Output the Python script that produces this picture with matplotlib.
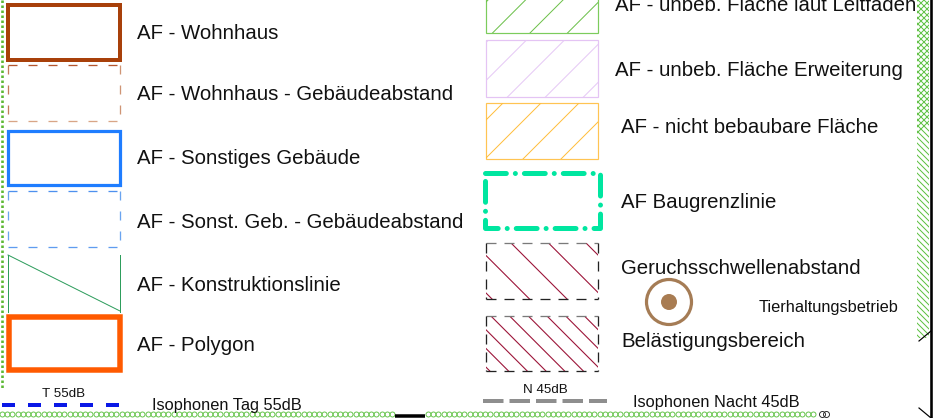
import numpy as np
import matplotlib.pyplot as plt
from matplotlib.patches import Rectangle, Circle

plt.rcParams['font.family'] = ['Liberation Sans', 'DejaVu Sans']
plt.rcParams['lines.scale_dashes'] = False

# legend entries
left_labels = ['AF - Wohnhaus', 'AF - Wohnhaus - Gebäudeabstand', 'AF - Sonstiges Gebäude',
               'AF - Sonst. Geb. - Gebäudeabstand', 'AF - Konstruktionslinie', 'AF - Polygon']
right_labels = ['AF - unbeb. Fläche laut Leitfaden', 'AF - unbeb. Fläche Erweiterung',
                'AF - nicht bebaubare Fläche', 'AF Baugrenzlinie',
                'Geruchsschwellenabstand', 'Belästigungsbereich']
point_label = 'Tierhaltungsbetrieb'
iso_short = ['T 55dB', 'N 45dB']
iso_labels = ['Isophonen Tag 55dB', 'Isophonen Nacht 45dB']

# layout (pixel units, y downwards)
left_boxes = [(4.5, 59.5), (65, 121), (131, 185), (191, 247), (255, 311), (317, 370)]
left_base = [39, 100, 164, 228, 291, 351]
right_boxes = [(-24, 32.5), (39.5, 96.5), (103, 159), (173, 228), (243, 299), (316, 371)]
right_base = [11, 76, 133, 208, 274, 347]
right_x = [615, 615, 621, 621, 621, 621]

TXT = '#111111'
BIG = 14.7
SMALL = 11.8


def pt(v):
    return v * 0.72


fig = plt.figure(figsize=(9.38, 4.18), dpi=100)
ax = fig.add_axes([0, 0, 1, 1])
ax.set_xlim(0, 938)
ax.set_ylim(418, 0)
ax.axis('off')


def box(x0, y0, x1, y1, color, lw, ls='-', **kw):
    r = Rectangle((x0, y0), x1 - x0, y1 - y0, fill=False, edgecolor=color,
                  lw=pt(lw), linestyle=ls, **kw)
    ax.add_patch(r)
    return r


def dashed_edges(x0, y0, x1, y1, colors, lw, dash):
    # colors: top, right, bottom, left
    edges = [((x0, x1), (y0, y0)), ((x1, x1), (y0, y1)),
             ((x0, x1), (y1, y1)), ((x0, x0), (y0, y1))]
    for (xs, ys), c in zip(edges, colors):
        ax.plot(xs, ys, color=c, lw=pt(lw), dashes=[pt(d) for d in dash])


def hatch(x0, y0, x1, y1, color, step, c0, slash=True, lw=1.0):
    clip = Rectangle((x0, y0), x1 - x0, y1 - y0, fill=False, lw=0)
    ax.add_patch(clip)
    span = (x1 - x0) + (y1 - y0)
    cs = np.arange(c0 - 3 * span, c0 + 3 * span, step)
    xs = np.array([x0 - 200, x1 + 200])
    for c in cs:
        ys = c - xs if slash else xs - c
        ln, = ax.plot(xs, ys, color=color, lw=pt(lw))
        ln.set_clip_path(clip)


# ---- left column ----
L0, L1 = 8, 120
(a, b) = left_boxes[0]
box(L0, a, L1, b, '#a8400a', 4)
(a, b) = left_boxes[1]
dashed_edges(L0, a, L1, b, ['#b4562e', '#cf9474', '#d8a586', '#c47a58'], 1.3, (9, 11))
(a, b) = left_boxes[2]
box(L0, a, L1, b, '#1f7dff', 3.2)
(a, b) = left_boxes[3]
dashed_edges(L0, a, L1, b, ['#4d90ee', '#6aa4f0', '#5f9cf0', '#6aa4f0'], 1.3, (9, 11))
(a, b) = left_boxes[4]
ax.plot([L0, L0], [a, b + 1], color='#2e9d5c', lw=pt(1))
ax.plot([L1, L1], [a, b + 1], color='#2e9d5c', lw=pt(1))
ax.plot([L0, L1], [a, b], color='#2e9d5c', lw=pt(1))
(a, b) = left_boxes[5]
box(L0 + 1, a, L1, b, '#ff5a00', 5.5)

for lab, y in zip(left_labels, left_base):
    ax.text(137, y, lab, fontsize=BIG, color=TXT, va='baseline', ha='left')

# ---- right column ----
R0, R1 = 486, 598
(a, b) = right_boxes[0]
hatch(R0, a, R1, b, '#6cc04a', 37.5, 543.5, True, 1.0)
box(R0, a, R1, b, '#7ccc5c', 1.2)
(a, b) = right_boxes[1]
hatch(R0, a, R1, b, '#e6c8f6', 38, 541.5, True, 1.0)
box(R0, a, R1, b, '#e4c4f4', 1.2)
(a, b) = right_boxes[2]
hatch(R0, a, R1, b, '#ffbe3c', 38, 616, True, 1.0)
box(R0, a, R1, b, '#ffc452', 1.2)
(a, b) = right_boxes[3]
ax.add_patch(Rectangle((R0 - 1, a), R1 - R0 + 3, b - a, fill=False, edgecolor='#00e6a0',
                       lw=pt(5), linestyle=(0, (15, 6.5, 0.01, 6.5)),
                       capstyle='round', joinstyle='round'))
(a, b) = right_boxes[4]
hatch(R0, a, R1, b, '#9c1438', 37.5, 247, False, 1.1)
dashed_edges(R0, a, R1, b, ['#7a7a7a', '#222222', '#222222', '#222222'], 1.3, (10, 8))
(a, b) = right_boxes[5]
hatch(R0, a, R1, b, '#9c1438', 18.7, 171, False, 1.1)
dashed_edges(R0, a, R1, b, ['#7a7a7a', '#222222', '#222222', '#222222'], 1.3, (10, 8))

for lab, x, y in zip(right_labels, right_x, right_base):
    ax.text(x, y, lab, fontsize=BIG, color=TXT, va='baseline', ha='left')

# animal husbandry symbol
ax.add_patch(Circle((669, 302), 22.5, fill=False, edgecolor='#a57c55', lw=pt(3.2)))
ax.add_patch(Circle((669, 302), 8, facecolor='#a87c52', edgecolor='none'))
ax.text(759, 312, point_label, fontsize=SMALL, color=TXT, va='baseline', ha='left')

# isophones
ax.plot([2, 126], [405, 405], color='#0a18e6', lw=pt(4), dashes=[pt(13), pt(13)])
ax.text(64, 397, iso_short[0], fontsize=9.6, color=TXT, va='baseline', ha='center')
ax.text(152, 410, iso_labels[0], fontsize=SMALL, color=TXT, va='baseline', ha='left')
ax.plot([483, 607], [401, 401], color='#8e8e8e', lw=pt(4), dashes=[pt(20.5), pt(6)])
ax.text(545, 393, iso_short[1], fontsize=9.6, color=TXT, va='baseline', ha='center')
ax.text(633, 407, iso_labels[1], fontsize=SMALL, color=TXT, va='baseline', ha='left')

# map frame fragments
ax.plot([1.5, 1.5], [0, 388], color='#5cb834', lw=pt(2.6), dashes=[pt(2.5), pt(2.5)])
chain1 = np.arange(2, 394, 5.2)
chain2 = np.arange(428, 818, 5.2)
for ch in (chain1, chain2):
    ax.plot(ch, np.full_like(ch, 413.8), ls='none', marker='o', ms=pt(5), mfc='none',
            mec='#5cc040', mew=pt(0.9))
ax.plot([822, 826], [414, 414], ls='none', marker='o', ms=pt(6), mfc='none', mec='#222222',
        mew=pt(0.9))
ax.plot([395, 425], [416, 416], color='black', lw=pt(3.5), solid_capstyle='butt')
hatch(917, -2, 929, 338, '#5cc040', 6, 0, True, 1.0)
hatch(917, -2, 929, 338, '#5cc040', 6, 0, False, 1.0)
ax.plot([931, 931], [0, 418], color='black', lw=pt(2.6))
ax.plot([919, 931], [341, 331], color='black', lw=pt(1.2))
ax.plot([919, 931], [408, 418], color='black', lw=pt(1.2))

fig.savefig('out.png', dpi=100)
